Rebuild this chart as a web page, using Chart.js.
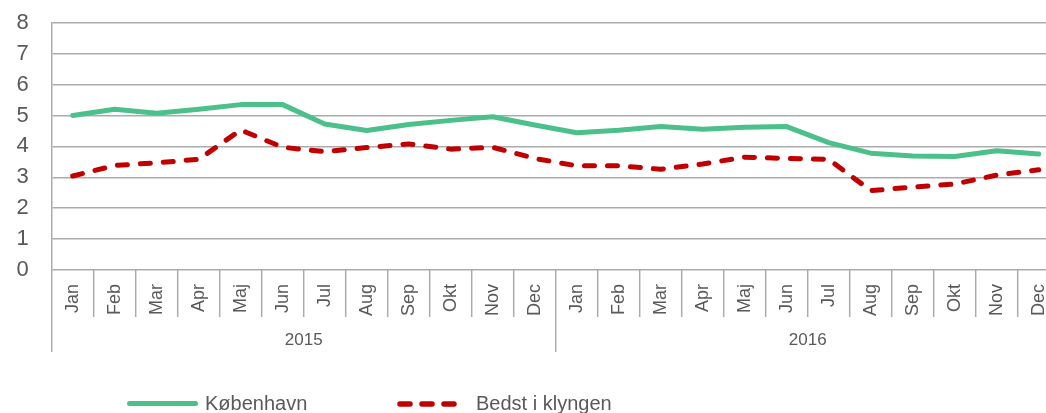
<!DOCTYPE html>
<html>
<head>
<meta charset="utf-8">
<script src="https://cdn.jsdelivr.net/npm/chart.js@4.4.1/dist/chart.umd.min.js"></script>
<style>
    html, body { margin: 0; padding: 0; background: #fff; overflow: hidden; }
    #wrap { position: relative; width: 1046px; height: 413px; overflow: hidden; }
    #chart { position: absolute; left: 0; top: 0; }
    .legend { position: absolute; top: 391px; font: 20px 'Liberation Sans', Arial, sans-serif; color: #595959; line-height: 24px; }
</style>
</head>
<body>
<div id="wrap">
    <canvas id="chart" width="1070" height="413"></canvas>
    <div style="position:absolute;left:127px;top:401px;width:71px;height:5px;border-radius:3px;background:#4cc08a;"></div>
    <div class="legend" style="left:205px;">København</div>
    <svg style="position:absolute;left:395px;top:398px;" width="70" height="12">
        <line x1="5" y1="6" x2="65" y2="6" stroke="#c00000" stroke-width="5.5" stroke-linecap="round" stroke-dasharray="10 12"></line>
    </svg>
    <div class="legend" style="left:476px;">Bedst i klyngen</div>
</div>
<script>
// Chart data
const months = ['Jan', 'Feb', 'Mar', 'Apr', 'Maj', 'Jun', 'Jul', 'Aug', 'Sep', 'Okt', 'Nov', 'Dec'];
const years = ['2015', '2016'];
const labels = years.flatMap(() => months);

const kobenhavn = [5.0, 5.2, 5.07, 5.2, 5.35, 5.35, 4.72, 4.51, 4.71, 4.84, 4.96, 4.69,
                   4.44, 4.52, 4.64, 4.55, 4.62, 4.64, 4.12, 3.78, 3.69, 3.67, 3.86, 3.75];
const bedstIKlyngen = [3.04, 3.38, 3.47, 3.58, 4.53, 3.97, 3.83, 3.96, 4.08, 3.91, 3.97, 3.61,
                       3.37, 3.37, 3.26, 3.43, 3.65, 3.61, 3.58, 2.57, 2.68, 2.78, 3.07, 3.24];

const yTicks = [0, 1, 2, 3, 4, 5, 6, 7, 8];

const FONT = "'Liberation Sans', Arial, sans-serif";
const TEXT = '#595959';
const GRID = '#ababab';

// Draws month separators, year separators and year labels below the x axis
const yearGroups = {
    id: 'yearGroups',
    afterDraw(chart) {
        const { ctx, chartArea, scales: { x } } = chart;
        const half = (x.getPixelForValue(1) - x.getPixelForValue(0)) / 2;
        const top = chartArea.bottom;
        ctx.save();
        ctx.strokeStyle = GRID;
        ctx.lineWidth = 1.5;
        for (let i = 0; i <= labels.length; i++) {
            const px = (i < labels.length ? x.getPixelForValue(i) : x.getPixelForValue(i - 1) + 2 * half) - half;
            const isYear = i % months.length === 0;
            ctx.beginPath();
            ctx.moveTo(px, top);
            ctx.lineTo(px, isYear ? 352 : 317);
            ctx.stroke();
        }
        ctx.fillStyle = TEXT;
        ctx.font = '17px ' + FONT;
        ctx.textAlign = 'center';
        ctx.textBaseline = 'middle';
        years.forEach((yr, k) => {
            const a = x.getPixelForValue(k * months.length) - half;
            const b = x.getPixelForValue((k + 1) * months.length - 1) + half;
            ctx.fillText(yr, (a + b) / 2, 340);
        });
        ctx.restore();
    },
};

new Chart(document.getElementById('chart'), {
    type: 'line',
    data: {
        labels: labels,
        datasets: [{
            label: 'København',
            data: kobenhavn,
            borderColor: '#4cc08a',
            borderWidth: 5,
            borderJoinStyle: 'round',
            borderCapStyle: 'round',
            pointRadius: 0,
            tension: 0,
        }, {
            label: 'Bedst i klyngen',
            data: bedstIKlyngen,
            borderColor: '#c00000',
            borderWidth: 5,
            borderDash: [10, 13],
            borderJoinStyle: 'round',
            borderCapStyle: 'round',
            pointRadius: 0,
            tension: 0,
        }],
    },
    options: {
        responsive: false,
        animation: false,
        layout: { padding: { top: 22.7, right: 10.3, bottom: 0, left: 0 } },
        plugins: {
            legend: { display: false },
            tooltip: { enabled: false },
        },
        scales: {
            x: {
                offset: true,
                grid: { display: false },
                border: { display: false },
                ticks: {
                    color: TEXT,
                    font: { family: FONT, size: 18 },
                    minRotation: 90,
                    maxRotation: 90,
                    padding: 6,
                    autoSkip: false,
                },
                afterFit(scale) { scale.height = 143; },
            },
            y: {
                min: 0,
                max: 8,
                afterBuildTicks(scale) { scale.ticks = yTicks.map(v => ({ value: v })); },
                grid: { color: GRID, lineWidth: 1.5, drawTicks: false },
                border: { display: true, color: GRID, width: 1.5 },
                ticks: {
                    color: TEXT,
                    font: { family: FONT, size: 22 },
                    padding: 23,
                    autoSkip: false,
                },
                afterFit(scale) {
                    scale.width = 51.7;
                    scale.paddingTop = 0;
                    scale.paddingBottom = 0;
                },
            },
        },
    },
    plugins: [yearGroups],
});
</script>
</body>
</html>
